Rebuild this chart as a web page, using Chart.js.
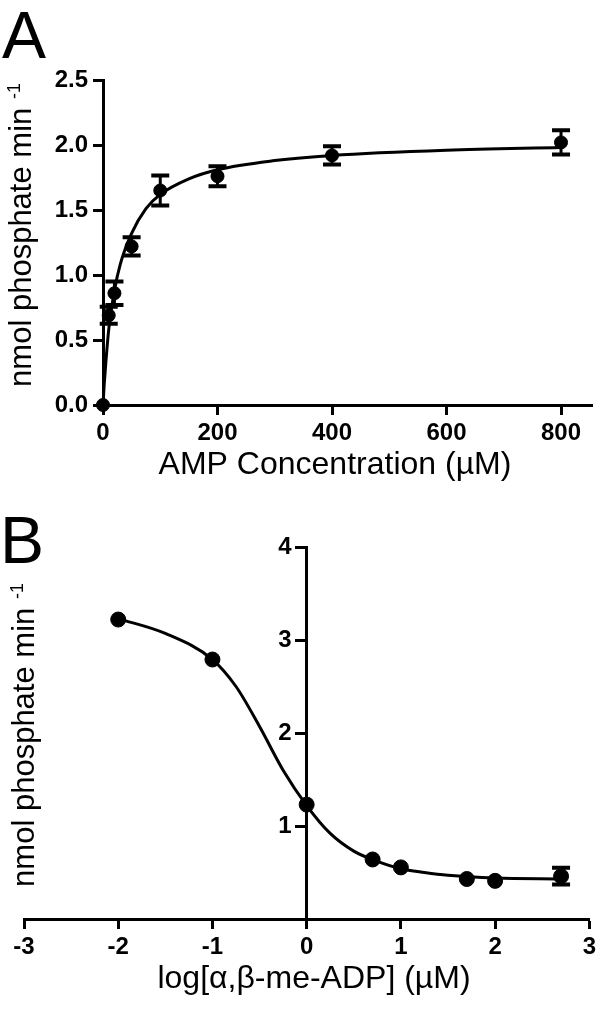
<!DOCTYPE html>
<html lang="en">
  <head>
    <meta charset="UTF-8" />
    <title>AMP kinetics and inhibition</title>
    <script src="https://cdn.jsdelivr.net/npm/chart.js"></script>
    <style>
      html,
      body {
        margin: 0;
        padding: 0;
        background: #fff;
      }
      body {
        width: 600px;
        height: 1014px;
        position: relative;
        overflow: hidden;
        font-family: "Liberation Sans", Arial, sans-serif;
      }
      .panel {
        position: absolute;
        left: 0;
        width: 600px;
      }
      #panelA {
        top: 0;
        height: 500px;
      }
      #panelB {
        top: 500px;
        height: 514px;
      }
      .letter {
        position: absolute;
        font-size: 66px;
        line-height: 66px;
        color: #000;
      }
    </style>
  </head>
  <body>
    <div class="letter" style="left: 2px; top: 2px">A</div>
    <div class="letter" style="left: 0px; top: 507px">B</div>
    <div class="panel" id="panelA"><canvas id="chartA"></canvas></div>
    <div class="panel" id="panelB"><canvas id="chartB"></canvas></div>

    <script>
      // Panel A: AMP concentration (uM) vs rate
      const ampConc = [0, 10, 20, 50, 100, 200, 400, 800];
      const ampRate = [0, 0.69, 0.86, 1.22, 1.65, 1.76, 1.92, 2.02];
      const ampErr = [0, 0.065, 0.09, 0.07, 0.115, 0.077, 0.07, 0.093];
      // fitted curve
      const fitAX = [0, 2, 5, 10, 20, 30, 50, 75, 100, 150, 200, 300, 400, 600, 800];
      const fitAY = [0, 0.15, 0.33, 0.58, 0.88, 1.08, 1.32, 1.51, 1.62, 1.74, 1.81, 1.88, 1.92, 1.96, 1.98];
      const xTicksA = [0, 200, 400, 600, 800];

      // Panel B: log[a,b-me-ADP] vs rate
      const logConc = [-2, -1, 0, 0.7, 1, 1.7, 2, 2.7];
      const rateB = [3.22, 2.79, 1.23, 0.64, 0.555, 0.43, 0.41, 0.46];
      const errB = [0, 0, 0, 0, 0, 0, 0, 0.09];
      const fitBX = [-2, -1.5, -1, -0.75, -0.5, -0.25, 0, 0.25, 0.5, 0.75, 1, 1.25, 1.5, 2, 2.7];
      const fitBY = [3.23, 3.07, 2.79, 2.5, 2.07, 1.6, 1.22, 0.92, 0.73, 0.62, 0.54, 0.5, 0.47, 0.44, 0.43];
      const yTicksB = [1, 2, 3, 4];

      const FONT = "'Liberation Sans', Arial, sans-serif";
      Chart.defaults.font.family = FONT;
      Chart.defaults.color = "#000";
      Chart.defaults.animation = false;

      const toXY = (xs, ys) => xs.map((x, i) => ({ x: x, y: ys[i] }));

      // vertical error bars with caps
      const errorBars = {
        id: "errorBars",
        afterDatasetsDraw(chart) {
          const { ctx, scales } = chart;
          chart.data.datasets.forEach((ds) => {
            if (!ds.errors) return;
            ctx.save();
            ctx.strokeStyle = "#000";
            ds.data.forEach((p, i) => {
              const e = ds.errors[i];
              if (!e) return;
              const px = scales.x.getPixelForValue(p.x);
              const top = scales.y.getPixelForValue(p.y + e);
              const bot = scales.y.getPixelForValue(p.y - e);
              ctx.lineWidth = 3;
              ctx.beginPath();
              ctx.moveTo(px, top);
              ctx.lineTo(px, bot);
              ctx.stroke();
              ctx.lineWidth = 4;
              ctx.beginPath();
              ctx.moveTo(px - 9, top);
              ctx.lineTo(px + 9, top);
              ctx.moveTo(px - 9, bot);
              ctx.lineTo(px + 9, bot);
              ctx.stroke();
            });
            ctx.restore();
          });
        },
      };

      // axis titles (rotated y title has a superscript), plus optional
      // y tick labels for an axis that sits inside the plot
      const titles = {
        id: "titles",
        afterDraw(chart, args, opts) {
          const ctx = chart.ctx;
          ctx.save();
          ctx.fillStyle = "#000";

          // x title
          ctx.font = "32px " + FONT;
          ctx.textAlign = "center";
          ctx.textBaseline = "middle";
          ctx.fillText(opts.xText, opts.xTitleX, opts.xTitleY);

          // y tick labels
          if (opts.yTicks) {
            const px = chart.scales.x.getPixelForValue(0);
            ctx.font = "bold 24px " + FONT;
            ctx.textAlign = "right";
            opts.yTicks.forEach((v) => {
              ctx.fillText(String(v), px - 15, chart.scales.y.getPixelForValue(v));
            });
          }

          // y title
          ctx.translate(opts.yTitleX, opts.yTitleY);
          ctx.rotate(-Math.PI / 2);
          ctx.textAlign = "left";
          ctx.textBaseline = "alphabetic";
          ctx.font = "31px " + FONT;
          const w1 = ctx.measureText(opts.yText + " ").width;
          ctx.font = "18px " + FONT;
          const w2 = ctx.measureText(opts.ySup).width;
          const start = -(w1 + w2) / 2;
          ctx.font = "31px " + FONT;
          ctx.fillText(opts.yText + " ", start, 0);
          ctx.font = "18px " + FONT;
          ctx.fillText(opts.ySup, start + w1, -11);
          ctx.restore();
        },
      };

      const axisStyle = {
        border: { color: "#000", width: 3 },
        grid: {
          display: true,
          drawOnChartArea: false,
          tickLength: 10,
          tickWidth: 3,
          tickColor: "#000",
        },
      };
      const tickFont = { size: 24, weight: "bold" };

      new Chart(document.getElementById("chartA"), {
        type: "scatter",
        data: {
          datasets: [
            {
              type: "line",
              data: toXY(fitAX, fitAY),
              borderColor: "#000",
              borderWidth: 3,
              pointRadius: 0,
              cubicInterpolationMode: "monotone",
              fill: false,
              clip: false,
              order: 2,
            },
            {
              data: toXY(ampConc, ampRate),
              errors: ampErr,
              backgroundColor: "#000",
              borderColor: "#000",
              pointRadius: 6.5,
              clip: false,
              order: 1,
            },
          ],
        },
        options: {
          responsive: true,
          maintainAspectRatio: false,
          layout: { padding: { left: 0, top: 80, right: 3, bottom: 0 } },
          plugins: {
            legend: { display: false },
            tooltip: { enabled: false },
            titles: {
              xText: "AMP Concentration (µM)",
              xTitleX: 335,
              xTitleY: 465,
              yText: "nmol phosphate min",
              ySup: "-1",
              yTitleX: 31,
              yTitleY: 235,
            },
          },
          scales: {
            x: {
              type: "linear",
              min: 0,
              max: 855,
              ...axisStyle,
              afterBuildTicks: (s) => {
                s.ticks = xTicksA.map((v) => ({ value: v }));
              },
              afterFit: (s) => {
                s.height = 95;
              },
              ticks: { font: tickFont, color: "#000", padding: 4, maxRotation: 0 },
            },
            y: {
              min: 0,
              max: 2.5,
              ...axisStyle,
              afterFit: (s) => {
                s.width = 103;
              },
              ticks: {
                stepSize: 0.5,
                font: tickFont,
                color: "#000",
                padding: 5,
                callback: (v) => v.toFixed(1),
              },
            },
          },
        },
        plugins: [errorBars, titles],
      });

      new Chart(document.getElementById("chartB"), {
        type: "scatter",
        data: {
          datasets: [
            {
              type: "line",
              data: toXY(fitBX, fitBY),
              borderColor: "#000",
              borderWidth: 3,
              pointRadius: 0,
              cubicInterpolationMode: "monotone",
              fill: false,
              clip: false,
              order: 2,
            },
            {
              data: toXY(logConc, rateB),
              errors: errB,
              backgroundColor: "#000",
              borderColor: "#000",
              pointRadius: 7.5,
              clip: false,
              order: 1,
            },
          ],
        },
        options: {
          responsive: true,
          maintainAspectRatio: false,
          layout: { padding: { left: 24, top: 47, right: 9, bottom: 0 } },
          plugins: {
            legend: { display: false },
            tooltip: { enabled: false },
            titles: {
              xText: "log[α,β-me-ADP] (µM)",
              xTitleX: 314,
              xTitleY: 479,
              yText: "nmol phosphate min",
              ySup: "-1",
              yTitleX: 34,
              yTitleY: 235,
              yTicks: yTicksB,
            },
          },
          scales: {
            x: {
              type: "linear",
              min: -3,
              max: 3,
              ...axisStyle,
              afterFit: (s) => {
                s.height = 95;
              },
              ticks: { stepSize: 1, font: tickFont, color: "#000", padding: 4, maxRotation: 0 },
            },
            y: {
              position: { x: 0 },
              min: 0,
              max: 4,
              ...axisStyle,
              afterBuildTicks: (s) => {
                s.ticks = yTicksB.map((v) => ({ value: v }));
              },
              ticks: { display: false },
            },
          },
        },
        plugins: [errorBars, titles],
      });
    </script>
  </body>
</html>
